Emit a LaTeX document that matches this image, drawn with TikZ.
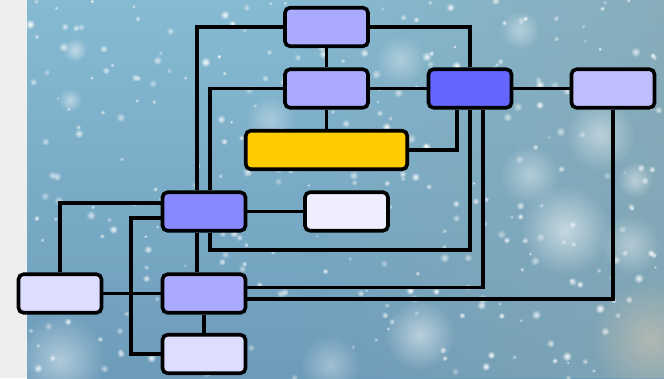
\documentclass[tikz,border=0pt]{standalone}
\usetikzlibrary{fadings}
\definecolor{stripgray}{HTML}{EEEEEE}
\definecolor{bgtop}{HTML}{86BAD2}
\definecolor{bgbot}{HTML}{6D9CBA}
\definecolor{bgright}{HTML}{88A8B2}
\definecolor{warm}{HTML}{D8C8B0}
\definecolor{cA}{HTML}{AAAAFF}
\definecolor{cC}{HTML}{6666FF}
\definecolor{cE}{HTML}{BFBFFF}
\definecolor{cD}{HTML}{FFCC00}
\definecolor{cF}{HTML}{8888FF}
\definecolor{cG}{HTML}{EEEEFF}
\definecolor{cH}{HTML}{DDDDFF}
\tikzfading[name=fuzzy, inner color=transparent!0, outer color=transparent!100]
\tikzfading[name=fadeleft, left color=transparent!100, right color=transparent!0]
\pgfdeclarelayer{bg}
\pgfdeclarelayer{edges}
\pgfsetlayers{bg,edges,main}
\tikzset{
  box/.style={draw=black, line width=3.6pt, rounded corners=5pt, inner sep=0pt,
    minimum width=83pt, minimum height=38.5pt},
  wire/.style={draw=black, line width=3.5pt},
  glow/.style={fill=white, path fading=fuzzy}
}
\begin{document}
\begin{tikzpicture}[x=1pt,y=-1pt]
\useasboundingbox (0,0) rectangle (664,378);
% nodes
\node[box, fill=cA] (A) at (326.5,27) {};
\node[box, fill=cA] (B) at (326.5,88.5) {};
\node[box, fill=cC] (C) at (470,88.5) {};
\node[box, fill=cE] (E) at (613,88.5) {};
\node[box, fill=cD, minimum width=161.5pt] (D) at (326.5,150) {};
\node[box, fill=cF] (F) at (204,211.5) {};
\node[box, fill=cG] (G) at (346.5,211.5) {};
\node[box, fill=cH] (H) at (60,293.5) {};
\node[box, fill=cA] (I) at (204,293.5) {};
\node[box, fill=cH] (J) at (204,354) {};
% background
\begin{pgfonlayer}{bg}
  \fill[stripgray] (0,0) rectangle (664,378);
  \shade[top color=bgtop, bottom color=bgbot] (27,0) rectangle (664,378);
  \fill[bgright, path fading=fadeleft, opacity=0.7] (300,0) rectangle (664,378);
  \fill[warm, path fading=fuzzy, opacity=0.55] (650,340) circle (60);
  \fill[white, path fading=fuzzy, opacity=0.45] (60,360) circle (45);
  \fill[glow, opacity=0.55] (565,230) circle (45);
  \fill[glow, opacity=0.45] (600,135) circle (35);
  \fill[glow, opacity=0.5] (420,335) circle (35);
  \fill[glow, opacity=0.4] (530,175) circle (30);
  \fill[glow, opacity=0.4] (630,245) circle (30);
  \fill[glow, opacity=0.35] (330,365) circle (30);
  \fill[glow, opacity=0.35] (270,120) circle (25);
  \fill[glow, opacity=0.5] (75,50) circle (12);
  \fill[glow, opacity=0.45] (70,100) circle (12);
  \fill[glow, opacity=0.45] (72,280) circle (10);
  \fill[glow, opacity=0.35] (400,60) circle (25);
  \fill[glow, opacity=0.4] (520,30) circle (20);
  \fill[glow, opacity=0.45] (635,180) circle (18);
  \pgfmathsetseed{11}
  \foreach \i in {1,...,320}{
    \pgfmathsetmacro\xx{30+630*rnd}
    \pgfmathsetmacro\yy{378*rnd}
    \pgfmathsetmacro\rr{1.8+3.5*rnd}
    \pgfmathsetmacro\oo{0.45+0.55*rnd}
    \fill[glow, opacity=\oo] (\xx,\yy) circle (\rr);
  }
\end{pgfonlayer}
% connectors
\begin{pgfonlayer}{edges}
  \draw[wire] (A.south) -- (B.north);
  \draw[wire] (B.south) -- (D.north);
  \draw[wire] (A.west) -| ([xshift=-7pt]F.north);
  \draw[wire] (A.east) -| (C.north);
  \draw[wire] (B.west) -| ([xshift=6pt]F.north);
  \draw[wire] (B.east) -- (C.west);
  \draw[wire] (C.east) -- (E.west);
  \draw[wire] ([xshift=-13pt]C.south) |- (D.east);
  \draw[wire] ([xshift=6pt]F.south) |- (C.south |- 0,250) -- (C.south);
  \draw[wire] ([yshift=6pt]I.east) -| ([xshift=13pt]C.south);
  \draw[wire] ([yshift=-5.5pt]I.east) -| (E.south);
  \draw[wire] (F.east) -- (G.west);
  \draw[wire] ([xshift=-7pt]F.south) -- ([xshift=-7pt]I.north);
  \draw[wire] (H.north) |- ([yshift=8.5pt]F.west);
  \draw[wire] ([yshift=-6.5pt]F.west) -| ([xshift=-29.5pt]J.west) -- (J.west);
  \draw[wire] (H.east) -- (I.west);
  \draw[wire] (I.south) -- (J.north);
\end{pgfonlayer}
\end{tikzpicture}
\end{document}
